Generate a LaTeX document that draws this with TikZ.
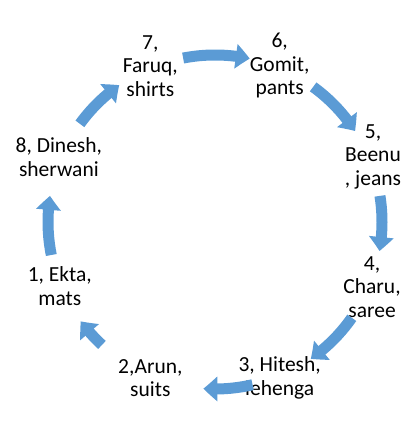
\documentclass[tikz,border=0pt]{standalone}
\usepackage{fontspec}
\setmainfont{Carlito}
\usetikzlibrary{arrows.meta,bending}
\definecolor{cycleblue}{RGB}{91,155,213}
\tikzset{
  person/.style={align=center, font=\fontsize{21.5}{23.5}\selectfont, inner sep=0pt},
  cyclearrow/.style={line width=11pt, color=cycleblue, -{Triangle[width=24pt,length=14pt,bend]}}
}
\begin{document}
\begin{tikzpicture}[x=1pt,y=1pt]
        \useasboundingbox (-215,-203) rectangle (199,222);
        % labels sit on a circle of radius 169, every 45 degrees
        \node[person] (faruq)  at (112.5:169) {7,\\Faruq,\\shirts};
        \node[person] (gomit)  at (67.5:169)  {6,\\Gomit,\\pants};
        \node[person] (beenu)  at (22.5:171)  {5,\\Beenu\\, jeans};
        \node[person] (charu)  at (-22.5:170) {4,\\Charu,\\saree};
        \node[person] (hitesh) at (-67.5:169) {3, Hitesh,\\lehenga};
        \node[person] (arun)   at (-112.5:169) {2,Arun,\\suits};
        \node[person] (ekta)   at (-157.5:168) {1, Ekta,\\mats};
        \node[person] (dinesh) at (157.5:169) {8, Dinesh,\\sherwani};
        % arrow ends on the inner circle of radius 167
        \coordinate (a76) at (101:167);
        \coordinate (a65) at (54:167);
        \coordinate (a54) at (9:167);
        \coordinate (a43) at (-35:167);
        \coordinate (a32) at (-77:167);
        \coordinate (a21) at (-132.6:167);
        \coordinate (a18) at (-168.6:167);
        \coordinate (a87) at (144:167);
        \draw[cyclearrow] (a76) arc[start angle=101, end angle=78, radius=167pt];
        \draw[cyclearrow] (a65) arc[start angle=54, end angle=33, radius=167pt];
        \draw[cyclearrow] (a54) arc[start angle=9, end angle=-10, radius=167pt];
        \draw[cyclearrow] (a43) arc[start angle=-35, end angle=-55, radius=167pt];
        \draw[cyclearrow] (a32) arc[start angle=-77, end angle=-94, radius=167pt];
        \draw[cyclearrow] (a21) arc[start angle=-132.6, end angle=-143.5, radius=167pt];
        \draw[cyclearrow] (a18) arc[start angle=-168.6, end angle=-189, radius=167pt];
        \draw[cyclearrow] (a87) arc[start angle=144, end angle=125, radius=167pt];
    \end{tikzpicture}
\end{document}
